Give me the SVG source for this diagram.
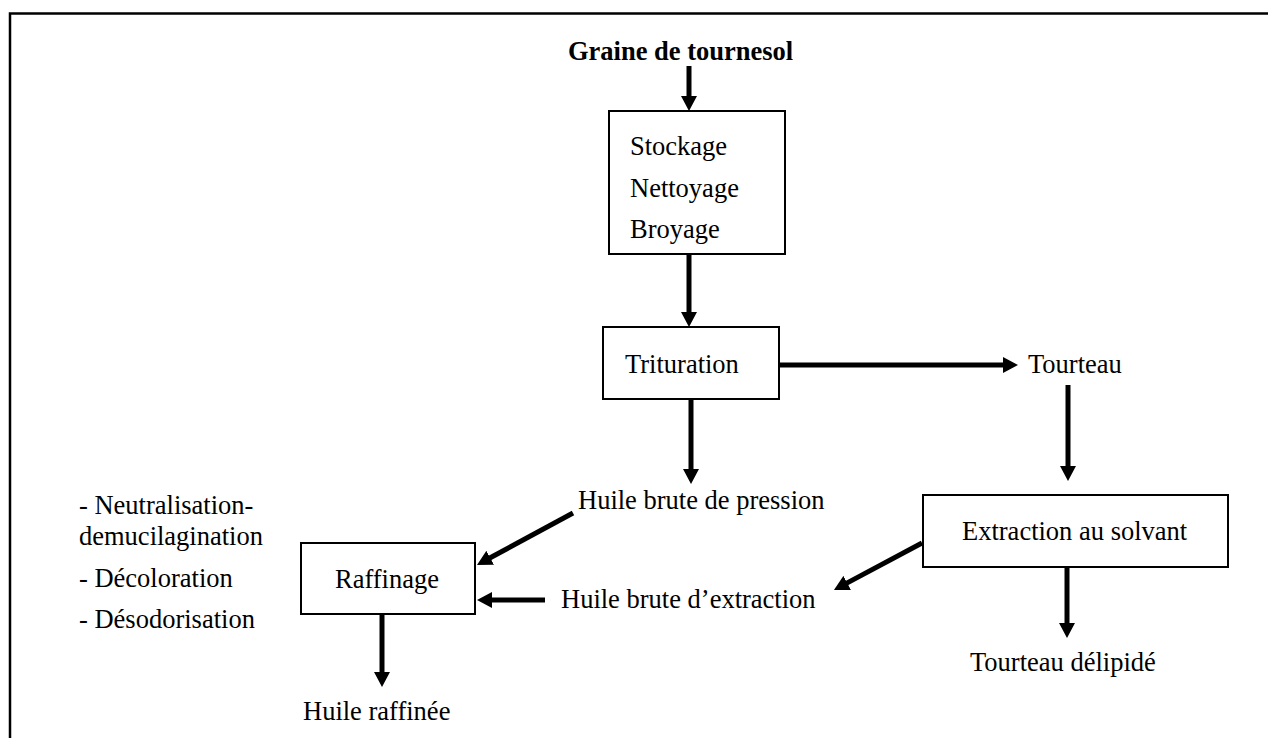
<svg xmlns="http://www.w3.org/2000/svg" width="1268" height="738" viewBox="0 0 1268 738">
<style>
text{font-family:"Liberation Serif","Times New Roman",serif;font-size:26.5px;fill:#000}
.b{font-weight:bold}
.box{fill:#fff;stroke:#000;stroke-width:2}
.ar{stroke:#000;stroke-width:5;fill:none;marker-end:url(#ah)}
</style>
<defs>
<marker id="ah" markerUnits="userSpaceOnUse" viewBox="0 0 15 16" refX="1" refY="8" markerWidth="15" markerHeight="16" orient="auto">
<path d="M0,0 L15,8 L0,16 z" fill="#000"/>
</marker>
</defs>
<rect width="1268" height="738" fill="#fff"/>
<path d="M10,738 V13.5 H1268" fill="none" stroke="#000" stroke-width="2.5"/>
<g id="connectors">
<line class="ar" x1="689" y1="66" x2="689" y2="97"/>
<line class="ar" x1="689" y1="254" x2="689" y2="313"/>
<line class="ar" x1="779" y1="365" x2="1004" y2="365"/>
<line class="ar" x1="691" y1="399" x2="691" y2="470"/>
<line class="ar" x1="573" y1="513" x2="489.3" y2="558.3"/>
<line class="ar" x1="1068" y1="385" x2="1068" y2="467"/>
<line class="ar" x1="1067" y1="567" x2="1067" y2="624"/>
<line class="ar" x1="922" y1="543" x2="846.3" y2="583.4"/>
<line class="ar" x1="545" y1="600" x2="491" y2="600"/>
<line class="ar" x1="382" y1="614" x2="382" y2="673"/>
</g>
<g id="graine"><text class="b" x="568" y="60">Graine de tournesol</text></g>
<g id="stockage">
<rect class="box" x="609" y="111" width="176" height="143"/>
<text x="630" y="155">Stockage</text>
<text x="630" y="197">Nettoyage</text>
<text x="630" y="238">Broyage</text>
</g>
<g id="trituration">
<rect class="box" x="603" y="327" width="176" height="72"/>
<text x="625" y="373">Trituration</text>
</g>
<g id="tourteau"><text x="1028" y="373">Tourteau</text></g>
<g id="huile-pression"><text x="578" y="509">Huile brute de pression</text></g>
<g id="extraction">
<rect class="box" x="923" y="495" width="305" height="72"/>
<text x="962" y="540">Extraction au solvant</text>
</g>
<g id="raffinage">
<rect class="box" x="301" y="543" width="174" height="71"/>
<text x="335" y="588">Raffinage</text>
</g>
<g id="huile-extraction"><text x="561" y="608">Huile brute d’extraction</text></g>
<g id="tourteau-delipide"><text x="970" y="671">Tourteau délipidé</text></g>
<g id="huile-raffinee"><text x="303" y="720">Huile raffinée</text></g>
<g id="etapes">
<text x="79" y="514">- Neutralisation-</text>
<text x="79" y="545">demucilagination</text>
<text x="79" y="587">- Décoloration</text>
<text x="79" y="628">- Désodorisation</text>
</g>
</svg>
